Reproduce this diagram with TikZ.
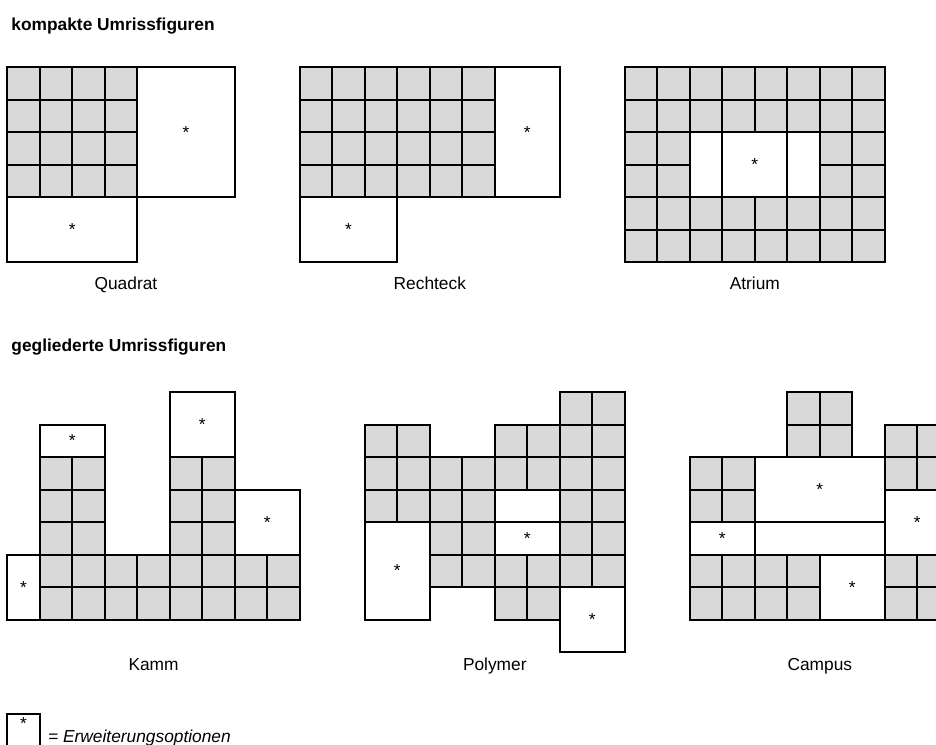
\documentclass[tikz,border=0pt]{standalone}
\usepackage{fontspec}
\setmainfont{Liberation Sans}
\definecolor{cellgray}{HTML}{D9D9D9}
\definecolor{edgecol}{HTML}{000000}

\begin{document}
\begin{tikzpicture}[
    x=24.375pt, y=-24.375pt,
    every node/.style={font=\fontsize{13}{15}\selectfont},
    cell/.style={draw=edgecol, fill=cellgray, line width=1.3pt},
    wbox/.style={draw=edgecol, fill=white, line width=1.3pt},
    opt/.style={inner sep=0pt, font=\fontsize{13}{15}\selectfont},
    title/.style={anchor=base west, inner sep=0pt, font=\fontsize{13}{15}\selectfont\bfseries},
    lbl/.style={anchor=base, inner sep=0pt, font=\fontsize{13}{15}\selectfont},
]
\useasboundingbox (-0.225,-2.07) rectangle (28.575,20.85);

% === Kompakte Umrissfiguren (top row) ===
\node[title] (titlekomp) at (0.12,-1.117) {kompakte Umrissfiguren};

% Quadrat
\begin{scope}[shift={(0,0)}]
\foreach \c in {0,...,3}
    \foreach \r in {0,...,3}
        \draw[cell] (\c,\r) rectangle ++(1,1);
\draw[wbox] (4,0) rectangle (7,4);
\draw[wbox] (0,4) rectangle (4,6);
\node[opt] (quadA) at (5.5,2) {*};
\node[opt] (quadB) at (2,5) {*};
\node[lbl] (lblquad) at (3.65,6.85) {Quadrat};
\end{scope}

% Rechteck
\begin{scope}[shift={(9,0)}]
\foreach \c in {0,...,5}
    \foreach \r in {0,...,3}
        \draw[cell] (\c,\r) rectangle ++(1,1);
\draw[wbox] (6,0) rectangle (8,4);
\draw[wbox] (0,4) rectangle (3,6);
\node[opt] (rechA) at (7,2) {*};
\node[opt] (rechB) at (1.5,5) {*};
\node[lbl] (lblrech) at (4,6.85) {Rechteck};
\end{scope}

% Atrium
\begin{scope}[shift={(19,0)}]
\foreach \c in {0,...,7}
    \foreach \r in {0,1,4,5}
        \draw[cell] (\c,\r) rectangle ++(1,1);
\foreach \c in {0,1,6,7}
    \foreach \r in {2,3}
        \draw[cell] (\c,\r) rectangle ++(1,1);
\draw[wbox] (2,2) rectangle (3,4);
\draw[wbox] (3,2) rectangle (5,4);
\draw[wbox] (5,2) rectangle (6,4);
\node[opt] (atrA) at (4,3) {*};
\node[lbl] (lblatr) at (4,6.85) {Atrium};
\end{scope}

% === Gegliederte Umrissfiguren (bottom row) ===
\node[title] (titlegegl) at (0.12,8.73) {gegliederte Umrissfiguren};

% Kamm
\begin{scope}[shift={(0,10)}]
\foreach \c/\r in {1/2,2/2,1/3,2/3,1/4,2/4,5/2,6/2,5/3,6/3,5/4,6/4}
    \draw[cell] (\c,\r) rectangle ++(1,1);
\foreach \c in {1,...,8}
    \foreach \r in {5,6}
        \draw[cell] (\c,\r) rectangle ++(1,1);
\draw[wbox] (1,1) rectangle (3,2);
\draw[wbox] (5,0) rectangle (7,2);
\draw[wbox] (7,3) rectangle (9,5);
\draw[wbox] (0,5) rectangle (1,7);
\node[opt] (kammA) at (2,1.5) {*};
\node[opt] (kammB) at (6,1) {*};
\node[opt] (kammC) at (8,4) {*};
\node[opt] (kammD) at (0.5,6) {*};
\node[lbl] (lblkamm) at (4.5,8.57) {Kamm};
\end{scope}

% Polymer
\begin{scope}[shift={(11,10)}]
\foreach \c/\r in {6/0,7/0,
                   0/1,1/1,4/1,5/1,6/1,7/1,
                   0/3,1/3,2/3,3/3,6/3,7/3,
                   2/4,3/4,6/4,7/4,
                   4/6,5/6}
    \draw[cell] (\c,\r) rectangle ++(1,1);
\foreach \c in {0,...,7}
    \draw[cell] (\c,2) rectangle ++(1,1);
\foreach \c in {2,...,7}
    \draw[cell] (\c,5) rectangle ++(1,1);
\draw[wbox] (4,3) rectangle (6,4);
\draw[wbox] (4,4) rectangle (6,5);
\draw[wbox] (0,4) rectangle (2,7);
\draw[wbox] (6,6) rectangle (8,8);
\node[opt] (polyA) at (5,4.5) {*};
\node[opt] (polyB) at (1,5.5) {*};
\node[opt] (polyC) at (7,7) {*};
\node[lbl] (lblpoly) at (4,8.57) {Polymer};
\end{scope}

% Campus
\begin{scope}[shift={(21,10)}]
\foreach \c/\r in {3/0,4/0,
                   3/1,4/1,6/1,7/1,
                   0/2,1/2,6/2,7/2,
                   0/3,1/3}
    \draw[cell] (\c,\r) rectangle ++(1,1);
\foreach \c in {0,1,2,3,6,7}
    \foreach \r in {5,6}
        \draw[cell] (\c,\r) rectangle ++(1,1);
\draw[wbox] (2,2) rectangle (6,4);
\draw[wbox] (0,4) rectangle (2,5);
\draw[wbox] (2,4) rectangle (6,5);
\draw[wbox] (6,3) rectangle (8,5);
\draw[wbox] (4,5) rectangle (6,7);
\node[opt] (campA) at (4,3) {*};
\node[opt] (campB) at (1,4.5) {*};
\node[opt] (campC) at (7,4) {*};
\node[opt] (campD) at (5,6) {*};
\node[lbl] (lblcamp) at (4,8.57) {Campus};
\end{scope}

% === Legend ===
\draw[wbox] (0,19.9) rectangle (1,21.0);
\node[opt, anchor=north, inner sep=2.5pt] (legstar) at (0.5,19.9) {*};
\node[anchor=base west, inner sep=0pt, font=\fontsize{13}{15}\selectfont\itshape]
    (legtext) at (1.25,20.77) {= Erweiterungsoptionen};

\end{tikzpicture}
\end{document}
